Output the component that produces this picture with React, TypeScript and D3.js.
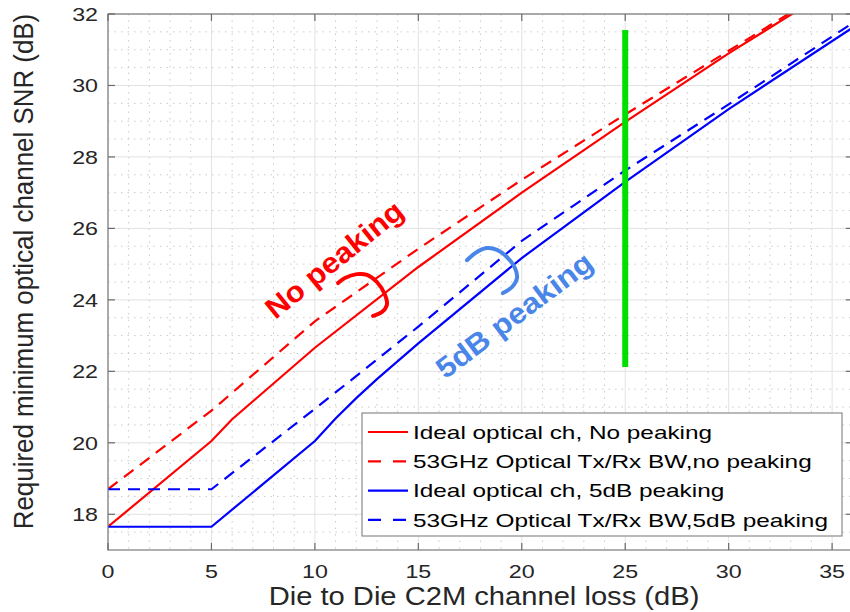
import React from 'react';
import * as d3 from 'd3';

// ---- data ----
const lossTicks = [0, 5, 10, 15, 20, 25, 30, 35];
const snrTicks = [18, 20, 22, 24, 26, 28, 30, 32];

const redSolidX = [0, 5, 6, 10, 15, 20, 25, 30, 34];
const redSolidY = [17.65, 20.05, 20.66, 22.66, 24.92, 27.0, 28.98, 30.9, 32.34];

const redDashX = [0, 5, 10, 15, 20, 25, 30, 34];
const redDashY = [18.7, 20.9, 23.4, 25.43, 27.36, 29.19, 30.97, 32.4];

const blueSolidX = [0, 5, 10, 11, 12, 13, 15, 20, 25, 30, 36];
const blueSolidY = [17.65, 17.65, 20.05, 20.68, 21.25, 21.78, 22.78, 25.17, 27.3, 29.34, 31.62];

const blueDashX = [0, 5, 10, 15, 20, 25, 30, 36];
const blueDashY = [18.7, 18.7, 20.95, 23.25, 25.65, 27.62, 29.47, 31.75];

const legendLabels = [
  'Ideal optical ch, No peaking',
  '53GHz Optical Tx/Rx BW,no peaking',
  'Ideal optical ch, 5dB peaking',
  '53GHz Optical Tx/Rx BW,5dB peaking',
];

// annotation brackets, in data units
const redBracket: [number, number][] = [
  [11.12, 24.47], [11.45, 24.61], [12.03, 24.72], [12.52, 24.7], [13.0, 24.5],
  [13.39, 24.14], [13.48, 23.86], [13.24, 23.66], [12.81, 23.55],
];
const blueBracket: [number, number][] = [
  [17.35, 25.11], [17.83, 25.34], [18.32, 25.45], [18.8, 25.4], [19.28, 25.2],
  [19.67, 24.89], [19.77, 24.61], [19.53, 24.36], [19.09, 24.19],
];

const markerLoss = 25;
const markerRange = [22.12, 31.55];

const FONT = '"Liberation Sans", Arial, Helvetica, sans-serif';
const RED = '#ff0000';
const BLUE = '#0000ff';
const LIGHT_BLUE = '#4a86e8';

const App: React.FC = () => {
  const x = d3.scaleLinear().domain([0, 36]).range([108, 852.8]);
  const y = d3.scaleLinear().domain([17, 32]).range([550, 14]);
  const [x0, x1] = x.range();
  const [y1, y0] = y.range();

  const series = [
    { xs: redSolidX, ys: redSolidY, color: RED, dash: undefined },
    { xs: redDashX, ys: redDashY, color: RED, dash: '12,8' },
    { xs: blueSolidX, ys: blueSolidY, color: BLUE, dash: undefined },
    { xs: blueDashX, ys: blueDashY, color: BLUE, dash: '12,8' },
  ];

  const line = d3
    .line<[number, number]>()
    .x((d) => x(d[0]))
    .y((d) => y(d[1]));

  const bracket = d3
    .line<[number, number]>()
    .x((d) => x(d[0]))
    .y((d) => y(d[1]))
    .curve(d3.curveCatmullRom);

  const minorX = d3.range(1, 36).filter((v) => v % 5 !== 0);
  const minorY = d3.range(17.5, 32, 0.5).filter((v) => v % 2 !== 0);

  // legend box
  const lg = { left: 362, top: 413, right: 842, bottom: 536 };
  const rowY = (i: number) => lg.top + 19 + i * 29.3;

  return (
    <svg
      width={850}
      height={612}
      style={{ position: 'absolute', left: 0, top: 0, background: '#fff' }}
      fontFamily={FONT}
    >
      <defs>
        <clipPath id="plot-clip">
          <rect x={x0} y={y0} width={x1 - x0} height={y1 - y0} />
        </clipPath>
      </defs>
      <rect x={0} y={0} width={850} height={612} fill="#fff" />

      {/* grid */}
      <g>
        {minorX.map((v) => (
          <line key={'mx' + v} x1={x(v)} x2={x(v)} y1={y0} y2={y1}
            stroke="#cacaca" strokeWidth={1} strokeDasharray="1.5,5" />
        ))}
        {minorY.map((v) => (
          <line key={'my' + v} x1={x0} x2={x1} y1={y(v)} y2={y(v)}
            stroke="#cacaca" strokeWidth={1} strokeDasharray="1.5,5" />
        ))}
        {lossTicks.map((v) => (
          <line key={'gx' + v} x1={x(v)} x2={x(v)} y1={y0} y2={y1}
            stroke="#e2e2e2" strokeWidth={1} />
        ))}
        {snrTicks.map((v) => (
          <line key={'gy' + v} x1={x0} x2={x1} y1={y(v)} y2={y(v)}
            stroke="#e2e2e2" strokeWidth={1} />
        ))}
      </g>

      {/* curves */}
      <g clipPath="url(#plot-clip)">
        {series.map((s, i) => (
          <path
            key={i}
            d={line(s.xs.map((v, k) => [v, s.ys[k]] as [number, number])) || ''}
            fill="none"
            stroke={s.color}
            strokeWidth={2.2}
            strokeDasharray={s.dash}
          />
        ))}
      </g>

      {/* green marker */}
      <line
        x1={x(markerLoss)} x2={x(markerLoss)}
        y1={y(markerRange[0])} y2={y(markerRange[1])}
        stroke="#00e000" strokeWidth={6}
      />

      {/* annotations */}
      <path d={bracket(redBracket) || ''} fill="none" stroke={RED} strokeWidth={4} strokeLinecap="round" />
      <path d={bracket(blueBracket) || ''} fill="none" stroke={LIGHT_BLUE} strokeWidth={4} strokeLinecap="round" />
      <text
        transform={`translate(${x(10.92)},${y(25.14)}) rotate(-39)`}
        textAnchor="middle" dy="0.36em" fontSize={29} fontWeight="bold"
        fill={RED} textLength={168} lengthAdjust="spacingAndGlyphs"
      >
        No peaking
      </text>
      <text
        transform={`translate(${x(19.62)},${y(23.58)}) rotate(-37)`}
        textAnchor="middle" dy="0.36em" fontSize={29} fontWeight="bold"
        fill={LIGHT_BLUE} textLength={188} lengthAdjust="spacingAndGlyphs"
      >
        5dB peaking
      </text>

      {/* axes box */}
      <rect x={x0} y={y0} width={x1 - x0} height={y1 - y0} fill="none" stroke="#7a7a7a" strokeWidth={1.2} />
      {lossTicks.map((v) => (
        <g key={'tx' + v} stroke="#6a6a6a" strokeWidth={1.2}>
          <line x1={x(v)} x2={x(v)} y1={y1} y2={y1 - 7} />
          <line x1={x(v)} x2={x(v)} y1={y0} y2={y0 + 7} />
        </g>
      ))}
      {snrTicks.map((v) => (
        <g key={'ty' + v} stroke="#6a6a6a" strokeWidth={1.2}>
          <line x1={x0} x2={x0 + 7} y1={y(v)} y2={y(v)} />
          <line x1={x1} x2={x1 - 7} y1={y(v)} y2={y(v)} />
        </g>
      ))}

      {/* tick labels */}
      {lossTicks.map((v) => (
        <text key={'lx' + v} transform={`translate(${x(v)},578) scale(1.25,1)`}
          textAnchor="middle" fontSize={18.6} fill="#262626">
          {v}
        </text>
      ))}
      {snrTicks.map((v) => (
        <text key={'ly' + v} transform={`translate(98,${y(v) + 6.7}) scale(1.25,1)`}
          textAnchor="end" fontSize={18.6} fill="#262626">
          {v}
        </text>
      ))}

      {/* axis labels */}
      <text transform="translate(484,605) scale(1.1,1)" textAnchor="middle" fontSize={26.5} fill="#262626">
        Die to Die C2M channel loss (dB)
      </text>
      <text transform="translate(33,271.5) rotate(-90) scale(0.96,1)" textAnchor="middle" fontSize={27} fill="#262626">
        Required minimum optical channel SNR (dB)
      </text>

      {/* legend */}
      <rect x={lg.left} y={lg.top} width={lg.right - lg.left} height={lg.bottom - lg.top}
        fill="#fff" stroke="#8a8a8a" strokeWidth={1.2} />
      {series.map((s, i) => (
        <g key={'lg' + i}>
          <line x1={368} x2={408} y1={rowY(i)} y2={rowY(i)} stroke={s.color} strokeWidth={2.2}
            strokeDasharray={s.dash ? '13,12' : undefined} />
          <text transform={`translate(413,${rowY(i) + 6.7}) scale(1.31,1)`} fontSize={18.6} fill="#000">
            {legendLabels[i]}
          </text>
        </g>
      ))}
    </svg>
  );
};

export default App;
